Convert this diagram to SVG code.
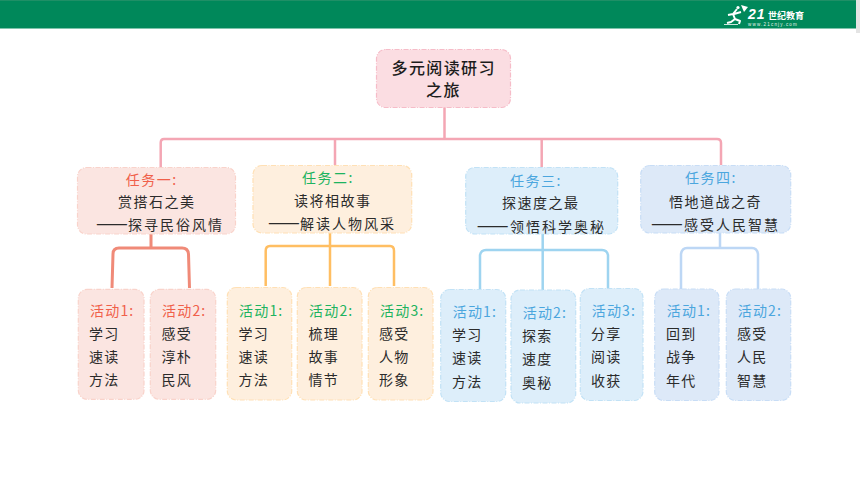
<svg xmlns="http://www.w3.org/2000/svg" width="860" height="484" viewBox="0 0 860 484">
<style>
text{font-family:"Noto Sans CJK SC","Noto Sans",sans-serif;font-size:14px;letter-spacing:1.5px;fill:#2b2b2b}
.root{font-size:16px;font-weight:500;letter-spacing:1.4px;fill:#1c1c1c}
.a{letter-spacing:1.2px}
.l3{letter-spacing:2px}
.d{font-size:19px;letter-spacing:0}
.red{fill:#f0604a}.grn{fill:#1db360}.blu{fill:#4ba6de}
.logo{font-family:"Liberation Sans",sans-serif;fill:#fff}
rect{stroke-width:1.2;stroke-dasharray:5 1.5 1 1.5}
.r0{fill:#fbdde2;stroke:#f6bcc8}
.r1{fill:#fbe5e1;stroke:#f9d3cb}
.r2{fill:#feefde;stroke:#ffe0b5}
.r3{fill:#ddeefa;stroke:#c2e2f6}
.r4{fill:#dde9f8;stroke:#c8ddf6}
path{fill:none;stroke-linejoin:round}
.c0{stroke:#f4a6b4;stroke-width:2.5}
.c1{stroke:#f08a78;stroke-width:3}
.c2{stroke:#ffbe62;stroke-width:2.5}
.c3{stroke:#9ed4f0;stroke-width:2.5}
.c4{stroke:#bdd7f5;stroke-width:2.5}
</style>
<rect width="860" height="484" style="fill:#fff;stroke:none"/>
<g id="header">
<rect x="0" y="0" width="856" height="28.500" style="fill:#00885a;stroke:none"/>
<rect x="0" y="0" width="856" height="1" style="fill:#1f8f66;stroke:none"/>
<rect x="856" y="0" width="4" height="33" style="fill:#e4e4e4;stroke:none"/>
<g id="logo">
<path d="M737 9 L733 14 L728 15 M733 14 L735 19 L731 22 L727 23 M735 19 L740 21 L739 24 M734 14 L741 12" style="stroke:#fff;stroke-width:2"/>
<circle cx="738" cy="7.500" r="1.600" fill="#fff"/>
<path d="M741 5 L748 7 L744 12 Z" style="fill:#fff"/>
<path d="M724 24.500 H738" style="stroke:#fff;stroke-width:.8"/>
<text class="logo" x="748" y="19" style="font-size:14px;font-weight:700;font-style:italic;letter-spacing:1px">21</text>
<text x="768" y="19" style="font-size:9px;font-weight:700;letter-spacing:0;fill:#fff">世纪教育</text>
<text class="logo" x="748" y="25.500" style="font-size:4.500px;letter-spacing:1.200px;fill:#e6f3ec">www.21cnjy.com</text>
</g>
</g>
<g id="connectors">
<path class="c0" d="M444.500 107V139M164 139H717Q721 139 721 143V165M160.700 167V143Q160.700 139 164 139M335 139V165M541.700 139V167"/>
<path class="c1" d="M151 234V248M112 288L113 254Q113 248 119 248H182Q188 248 188.500 254L189.500 288"/>
<path class="c2" d="M330 233V286M265.700 286V251Q265.700 246 270 246H390Q394 246 394 251V286"/>
<path class="c3" d="M542.700 234V290M480 289V255Q481 250 486 250H602Q607 250 608 255V289"/>
<path class="c4" d="M720 233V248M681 289V254Q682 248 687 248H752Q757 248 758 254V289"/>
</g>
<g id="root"><rect class="r0" x="376.500" y="49.500" width="134" height="58" rx="9"/>
<text class="root" x="391.500" y="74">多元阅读研习</text><text class="root" x="426" y="96">之旅</text></g>
<g id="task1"><rect class="r1" x="77.500" y="167.500" width="158" height="66.500" rx="9"/>
<text class="red" x="125.700" y="184.500">任务一:</text><text x="118" y="207">赏搭石之美</text><text class="l3" x="96" y="230"><tspan class="d">——</tspan><tspan x="128">探寻民俗风情</tspan></text></g>
<g id="task2"><rect class="r2" x="253" y="165.500" width="158.700" height="67.500" rx="9"/>
<text class="grn" x="302" y="182.500">任务二:</text><text x="294" y="205.500">读将相故事</text><text class="l3" x="268" y="228.500"><tspan class="d">——</tspan><tspan x="300">解读人物风采</tspan></text></g>
<g id="task3"><rect class="r3" x="465.700" y="167.500" width="152" height="66.500" rx="9"/>
<text class="blu" x="510" y="185.500">任务三:</text><text x="502" y="207.500">探速度之最</text><text class="l3" x="476.700" y="231.500"><tspan class="d">——</tspan><tspan x="510">领悟科学奥秘</tspan></text></g>
<g id="task4"><rect class="r4" x="640.700" y="165.500" width="150" height="67.500" rx="9"/>
<text class="blu" x="685" y="182.500">任务四:</text><text x="669" y="206.500">悟地道战之奇</text><text class="l3" x="651" y="229.500"><tspan class="d">——</tspan><tspan x="684">感受人民智慧</tspan></text></g>
<g id="a11"><rect class="r1" x="78.300" y="289.300" width="65.700" height="110" rx="9"/>
<text class="a red" x="90" y="316">活动1:</text><text class="a" x="89" y="339">学习</text><text class="a" x="89" y="362">速读</text><text class="a" x="89" y="385">方法</text></g>
<g id="a12"><rect class="r1" x="150.300" y="289.300" width="65.400" height="110" rx="9"/>
<text class="a red" x="162" y="316">活动2:</text><text class="a" x="161.500" y="339">感受</text><text class="a" x="161.500" y="362">淳朴</text><text class="a" x="161.500" y="385">民风</text></g>
<g id="a21"><rect class="r2" x="227.300" y="287.500" width="64.400" height="112.500" rx="9"/>
<text class="a grn" x="239" y="315.500">活动1:</text><text class="a" x="238.500" y="338.500">学习</text><text class="a" x="238.500" y="361.500">速读</text><text class="a" x="238.500" y="384.500">方法</text></g>
<g id="a22"><rect class="r2" x="297.300" y="287.500" width="64.700" height="112.500" rx="9"/>
<text class="a grn" x="309" y="315.500">活动2:</text><text class="a" x="308.500" y="338.500">梳理</text><text class="a" x="308.500" y="361.500">故事</text><text class="a" x="308.500" y="384.500">情节</text></g>
<g id="a23"><rect class="r2" x="368.300" y="287.500" width="64.700" height="112.500" rx="9"/>
<text class="a grn" x="380" y="315.500">活动3:</text><text class="a" x="379" y="338.500">感受</text><text class="a" x="379" y="361.500">人物</text><text class="a" x="379" y="384.500">形象</text></g>
<g id="a31"><rect class="r3" x="440.700" y="289.500" width="65" height="112" rx="9"/>
<text class="a blu" x="452.700" y="317">活动1:</text><text class="a" x="452" y="340">学习</text><text class="a" x="452" y="363">速读</text><text class="a" x="452" y="387">方法</text></g>
<g id="a32"><rect class="r3" x="511" y="290" width="64.700" height="113" rx="9"/>
<text class="a blu" x="522.700" y="318">活动2:</text><text class="a" x="522" y="341">探索</text><text class="a" x="522" y="364">速度</text><text class="a" x="522" y="388">奥秘</text></g>
<g id="a33"><rect class="r3" x="580.300" y="288.500" width="62.700" height="112" rx="9"/>
<text class="a blu" x="591.700" y="316">活动3:</text><text class="a" x="591" y="339">分享</text><text class="a" x="591" y="362">阅读</text><text class="a" x="591" y="386">收获</text></g>
<g id="a41"><rect class="r4" x="654.700" y="289" width="64.300" height="111.500" rx="9"/>
<text class="a blu" x="666.700" y="316">活动1:</text><text class="a" x="666" y="339">回到</text><text class="a" x="666" y="362">战争</text><text class="a" x="666" y="386">年代</text></g>
<g id="a42"><rect class="r4" x="726.300" y="289" width="64.400" height="111.500" rx="9"/>
<text class="a blu" x="737.700" y="316">活动2:</text><text class="a" x="737" y="339">感受</text><text class="a" x="737" y="362">人民</text><text class="a" x="737" y="386">智慧</text></g>
</svg>
